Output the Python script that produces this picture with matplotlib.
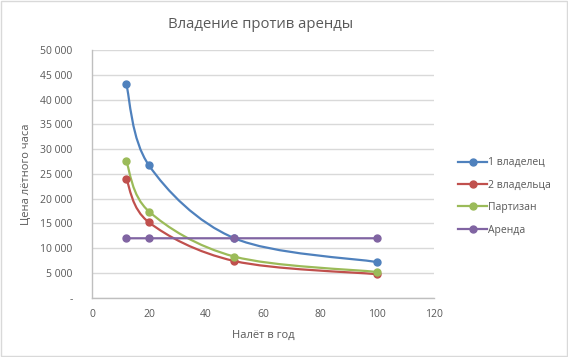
import matplotlib
matplotlib.use("Agg")
import matplotlib.pyplot as plt
from matplotlib.path import Path
from matplotlib.patches import PathPatch, Rectangle
from matplotlib.lines import Line2D
from matplotlib.ticker import FuncFormatter
import numpy as np

plt.rcParams['font.family'] = ['Open Sans', 'DejaVu Sans']

title = "Владение против аренды"
x_label = "Налёт в год"
y_label = "Цена лётного часа"
hours = [12, 20, 50, 100]
series_names = ["1 владелец", "2 владельца", "Партизан", "Аренда"]
one_owner = [43200, 26700, 12000, 7200]
two_owners = [24000, 15200, 7400, 4750]
partisan = [27600, 17400, 8300, 5200]
rent = [12000, 12000, 12000, 12000]
colors = ["#4F81BD", "#C0504D", "#9BBB59", "#8064A2"]
series = [one_owner, two_owners, partisan, rent]

text_color = "#595959"
grid_color = "#D9D9D9"

fig = plt.figure(figsize=(5.68, 3.57), dpi=100)
ax = fig.add_axes([0.162, 0.166, 0.602, 0.694])

def smooth_path(xs, ys):
    pts = np.column_stack([xs, ys]).astype(float)
    n = len(pts)
    verts = [pts[0]]
    codes = [Path.MOVETO]
    for i in range(n - 1):
        p0 = pts[i - 1] if i > 0 else pts[i]
        p1 = pts[i]
        p2 = pts[i + 1]
        p3 = pts[i + 2] if i + 2 < n else pts[i + 1]
        c1 = p1 + (p2 - p0) / 6.0
        c2 = p2 - (p3 - p1) / 6.0
        verts += [c1, c2, p2]
        codes += [Path.CURVE4] * 3
    return Path(verts, codes)

lw = 1.6
ms = 5
handles = []
for name, vals, c in zip(series_names, series, colors):
    patch = PathPatch(smooth_path(hours, vals), facecolor="none", edgecolor=c,
                      lw=lw, zorder=3)
    ax.add_patch(patch)
    ax.plot(hours, vals, linestyle="none", marker="o", ms=ms, color=c, zorder=4)
    handles.append(Line2D([], [], color=c, lw=lw, marker="o", ms=ms))

ax.set_xlim(0, 120)
ax.set_ylim(0, 50000)
ax.set_xticks(range(0, 121, 20))
ax.set_yticks(range(0, 50001, 5000))

def yfmt(v, pos):
    if v == 0:
        return "-"
    return f"{int(v):,}".replace(",", " ")

ax.yaxis.set_major_formatter(FuncFormatter(yfmt))
ax.grid(axis="y", color=grid_color, lw=1)
ax.set_axisbelow(True)
ax.tick_params(length=0, labelsize=7.5, colors=text_color, pad=8)
ax.tick_params(axis="y", pad=14)
for s in ["top", "right"]:
    ax.spines[s].set_visible(False)
for s in ["left", "bottom"]:
    ax.spines[s].set_color("#BFBFBF")
    ax.spines[s].set_linewidth(1)

ax.set_xlabel(x_label, fontsize=8, color=text_color, labelpad=7)
ax.set_ylabel(y_label, fontsize=8, color=text_color, labelpad=6)
fig.text(0.458, 0.93, title, ha="center", va="center", fontsize=10.7, color=text_color)

leg = fig.legend(handles, series_names, loc="center left", bbox_to_anchor=(0.79, 0.45),
                 frameon=False, fontsize=7.5, handlelength=2.8, handletextpad=0.1,
                 labelspacing=1.1, labelcolor=text_color)

fig.patches.append(Rectangle((0.002, 0.003), 0.996, 0.994, transform=fig.transFigure,
                             fill=False, edgecolor="#D9D9D9", lw=1))

fig.savefig("out.png", dpi=100)
